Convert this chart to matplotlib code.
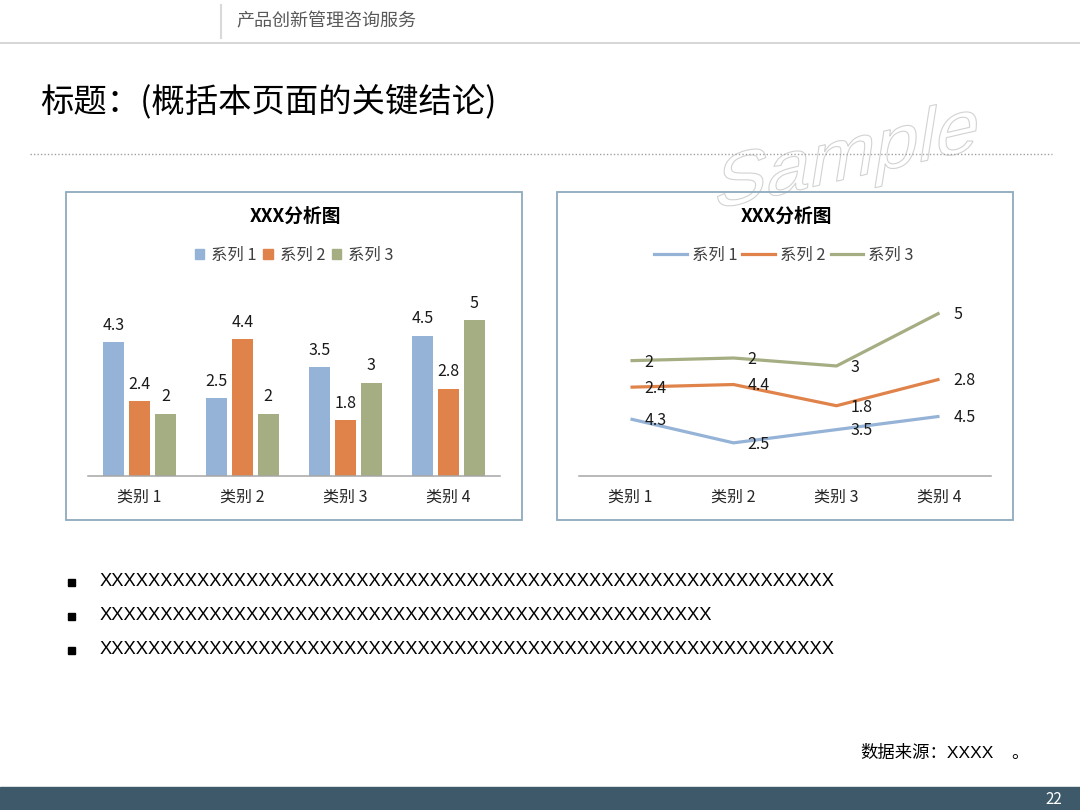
import numpy as np
import matplotlib
matplotlib.use("Agg")
import matplotlib.pyplot as plt
from matplotlib.patches import Rectangle, PathPatch, Patch
from matplotlib.lines import Line2D
from matplotlib.textpath import TextPath
from matplotlib.font_manager import FontProperties
from matplotlib.transforms import Affine2D

plt.rcParams['font.family'] = ['Noto Sans CJK SC', 'DejaVu Sans']

# data
categories = ['类别 1', '类别 2', '类别 3', '类别 4']
series_names = ['系列 1', '系列 2', '系列 3']
series1 = [4.3, 2.5, 3.5, 4.5]
series2 = [2.4, 4.4, 1.8, 2.8]
series3 = [2, 2, 3, 5]
colors = ['#95B3D7', '#E0834A', '#A5AD82']
bullet_lines = ['X' * 60, 'X' * 50, 'X' * 60]

W, H = 1080, 810
fig = plt.figure(figsize=(10.8, 8.1), dpi=100)


def fx(x):
    return x / W


def fy(y):
    return 1 - y / H


# page layer in pixel coordinates (y down)
page = fig.add_axes([0, 0, 1, 1])
page.set_xlim(0, W)
page.set_ylim(H, 0)
page.axis('off')

# header
page.plot([221, 221], [5, 38], color='#d9d9d9', lw=1.5)
page.text(236, 21, '产品创新管理咨询服务', fontsize=13, color='#595959', va='center')
page.plot([0, W], [43, 43], color='#d0d0d0', lw=1.2)

# title
page.text(40, 102, '标题：(概括本页面的关键结论)', fontsize=24, color='black', va='center')
page.plot([30, 1052], [154, 154], color='#a0a0a0', lw=1, ls=(0, (1, 1.5)))

# watermark
tp = TextPath((0, 0), 'Sample', size=86, prop=FontProperties(family='Liberation Sans'))
tr = Affine2D().scale(0.93, 0.84).skew_deg(22, 0).rotate_deg(13).scale(1, -1).translate(712, 210)
page.add_patch(PathPatch(tr.transform_path(tp), facecolor='none', edgecolor='#d2d2d2', lw=0.8))

# chart boxes
for x0 in (66, 557):
    page.add_patch(Rectangle((x0, 192), 456, 328, fill=False, edgecolor='#8FAABD', lw=1.3))
    page.text(x0 + 229, 216, 'XXX分析图', fontsize=13.5, weight='bold', ha='center', va='center')


def style_axis(ax):
    ax.set_facecolor('none')
    for s in ('left', 'right', 'top'):
        ax.spines[s].set_visible(False)
    ax.spines['bottom'].set_color('#a6a6a6')
    ax.spines['bottom'].set_linewidth(1.1)
    ax.set_yticks([])
    ax.set_xticks(range(len(categories)))
    ax.set_xticklabels(categories, fontsize=11.5, color='#262626')
    ax.tick_params(axis='x', length=0, pad=9.5)
    ax.set_xlim(-0.5, len(categories) - 0.5)


# bar chart
ax1 = fig.add_axes([fx(88), fy(476), fx(500) - fx(88), (476 - 289) / H])
style_axis(ax1)
ax1.set_ylim(0, 6)
x = np.arange(len(categories))
for j, vals in enumerate([series1, series2, series3]):
    bars = ax1.bar(x + (j - 1) * 0.25, vals, 0.2, color=colors[j], label=series_names[j])
    ax1.bar_label(bars, padding=6, fontsize=11.5, color='#1a1a1a')
handles = [Patch(color=c) for c in colors]
ax1.legend(handles, series_names, loc='center', bbox_to_anchor=(fx(294), fy(255)),
           bbox_transform=fig.transFigure, ncol=3, frameon=False, fontsize=11.8,
           handlelength=0.6, handleheight=0.6, handletextpad=0.4, columnspacing=0.4,
           labelcolor='#404040')

# stacked line chart
ax2 = fig.add_axes([fx(579), fy(476), fx(991) - fx(579), (476 - 290.4) / H])
style_axis(ax2)
ax2.set_ylim(0, 14)
stacked = np.cumsum([series1, series2, series3], axis=0)
for j, vals in enumerate([series1, series2, series3]):
    ax2.plot(x, stacked[j], color=colors[j], lw=2.3, solid_capstyle='butt')
    for xi, yi, v in zip(x, stacked[j], vals):
        ax2.annotate(f'{v:g}', (xi, yi), xytext=(10, -1), textcoords='offset points',
                     ha='left', va='center', fontsize=11.5, color='#1a1a1a')
handles = [Line2D([0], [0], color=c, lw=2.3) for c in colors]
ax2.legend(handles, series_names, loc='center', bbox_to_anchor=(fx(784), fy(255)),
           bbox_transform=fig.transFigure, ncol=3, frameon=False, fontsize=11.8,
           handlelength=2.0, handletextpad=0.3, columnspacing=0.3,
           labelcolor='#404040')

# bullets
for i, line in enumerate(bullet_lines):
    y = 582 + i * 34
    page.add_patch(Rectangle((67.5, y - 3.5), 7, 7, color='black'))
    page.text(100, y - 1, line, fontsize=13.2, family='Liberation Sans', va='center')

# source note
page.text(860, 753, '数据来源：XXXX', fontsize=12.5, va='center',
          family=['Liberation Sans', 'Noto Sans CJK SC'])
page.text(1011, 753, '。', fontsize=12.5, va='center')

# footer bar
page.add_patch(Rectangle((0, 787), W, H - 787, color='#3E5A6A'))
page.text(1062, 799, '22', fontsize=11, color='white', ha='right', va='center')

fig.savefig('out.png', dpi=100)
